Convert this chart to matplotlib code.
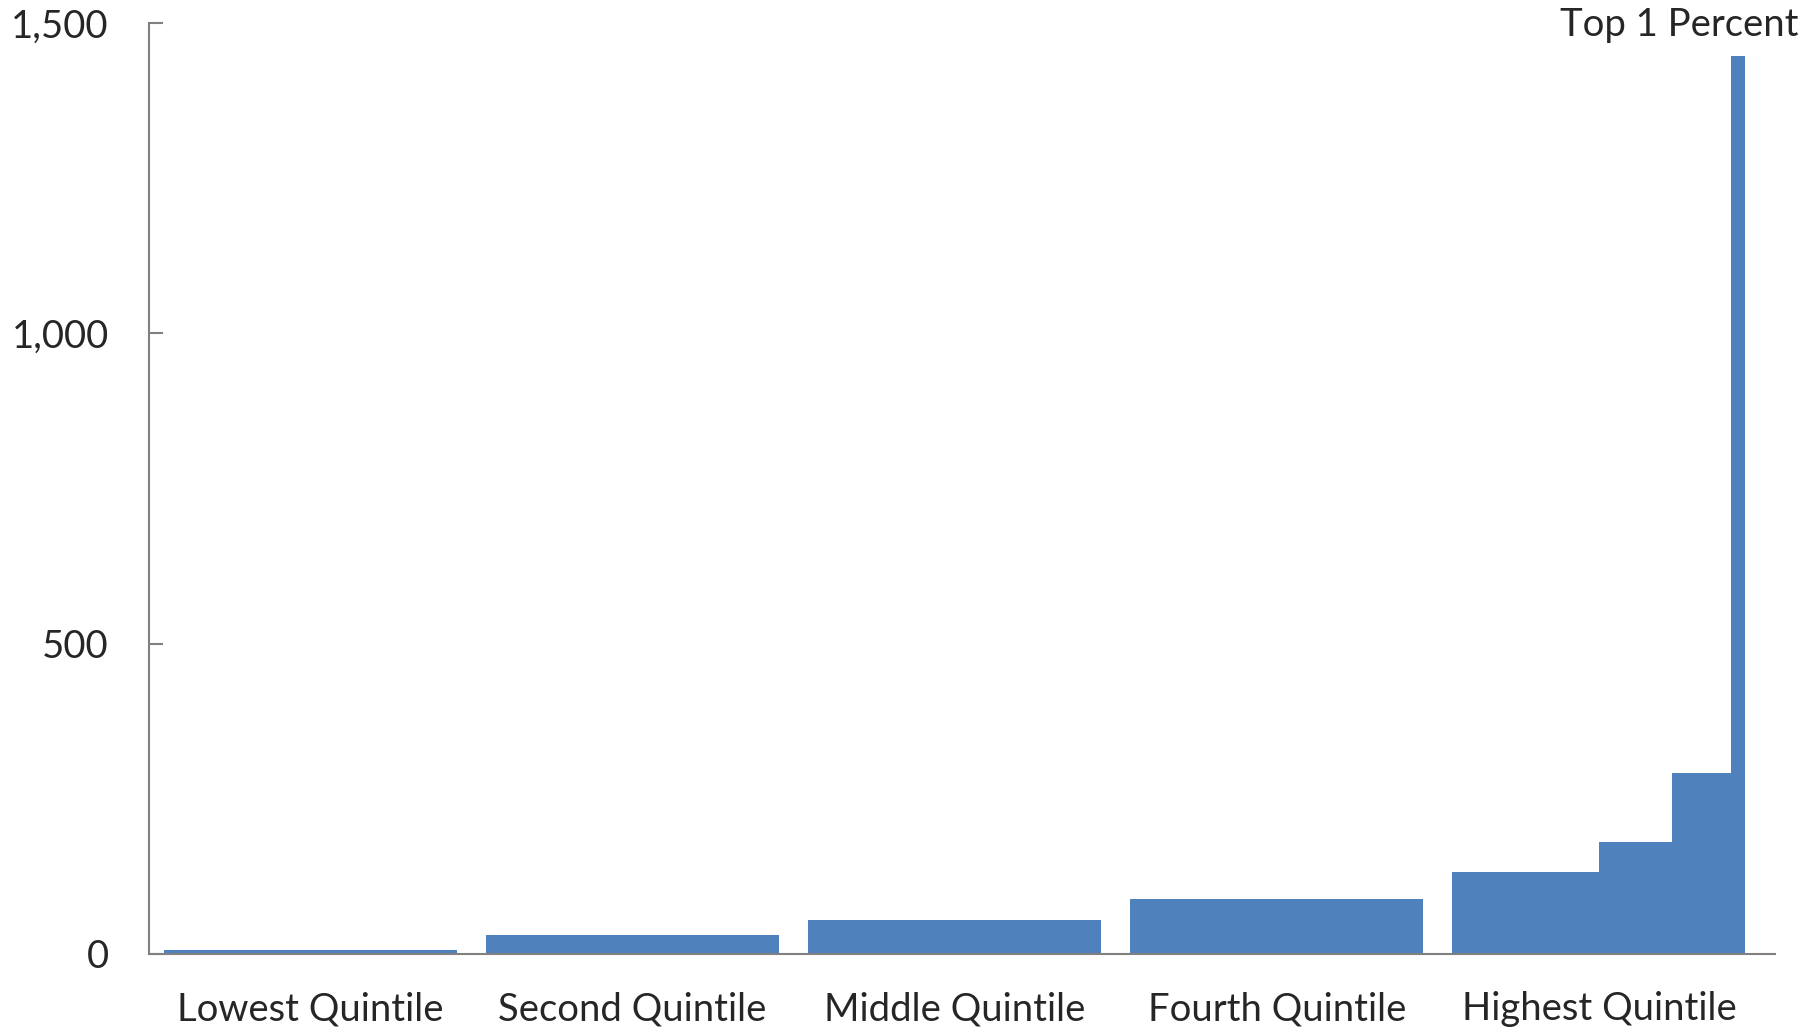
import matplotlib.pyplot as plt
import numpy as np

# average income by group; bar widths follow population share (percent)
quintiles = ['Lowest Quintile', 'Second Quintile', 'Middle Quintile', 'Fourth Quintile', 'Highest Quintile']
quintile_values = [7, 30, 54, 89]
top_groups = ['81st to 90th Percentiles', '91st to 95th Percentiles', '96th to 99th Percentiles', 'Top 1 Percent']
top_shares = [10, 5, 4, 1]
top_values = [132, 180, 292, 1447]

blue = '#4F81BD'
text_color = '#262626'
axis_color = '#808080'

plt.rcParams['font.family'] = ['Lato', 'DejaVu Sans']

fig = plt.figure(figsize=(18.16, 10.28), dpi=100)
ax = fig.add_axes([0.08205, 0.0720, 0.97726 - 0.08205, 0.9776 - 0.0720])

gap = 2
width = 20
starts = np.arange(len(quintiles)) * (width + gap) + gap / 2

# first four quintiles, one bar each
ax.bar(starts[:4], quintile_values, width=width, align='edge', color=blue,
       edgecolor='none')

# highest quintile split into the top percentile groups
left = starts[4]
for share, val in zip(top_shares, top_values):
    ax.bar(left, val, width=share, align='edge', color=blue,
           edgecolor='none')
    left += share

ax.text(112.6, 1497, top_groups[-1], ha='right', va='center',
        fontsize=27.5, color=text_color, clip_on=False)

ax.set_xlim(0, 111)
ax.set_ylim(0, 1500)
ax.set_yticks([0, 500, 1000, 1500])
ax.set_yticklabels(['0', '500', '1,000', '1,500'])
ax.set_xticks(starts + width / 2)
ax.set_xticklabels(quintiles)

for s in ['top', 'right']:
    ax.spines[s].set_visible(False)
for s in ['left', 'bottom']:
    ax.spines[s].set_color(axis_color)
    ax.spines[s].set_linewidth(1.5)

ax.tick_params(axis='y', direction='in', length=10, width=1.5, color=axis_color,
               labelsize=27.5, labelcolor=text_color, pad=29)
ax.tick_params(axis='x', length=0, labelsize=27.5, labelcolor=text_color, pad=27)

fig.savefig('out.png', dpi=100)
